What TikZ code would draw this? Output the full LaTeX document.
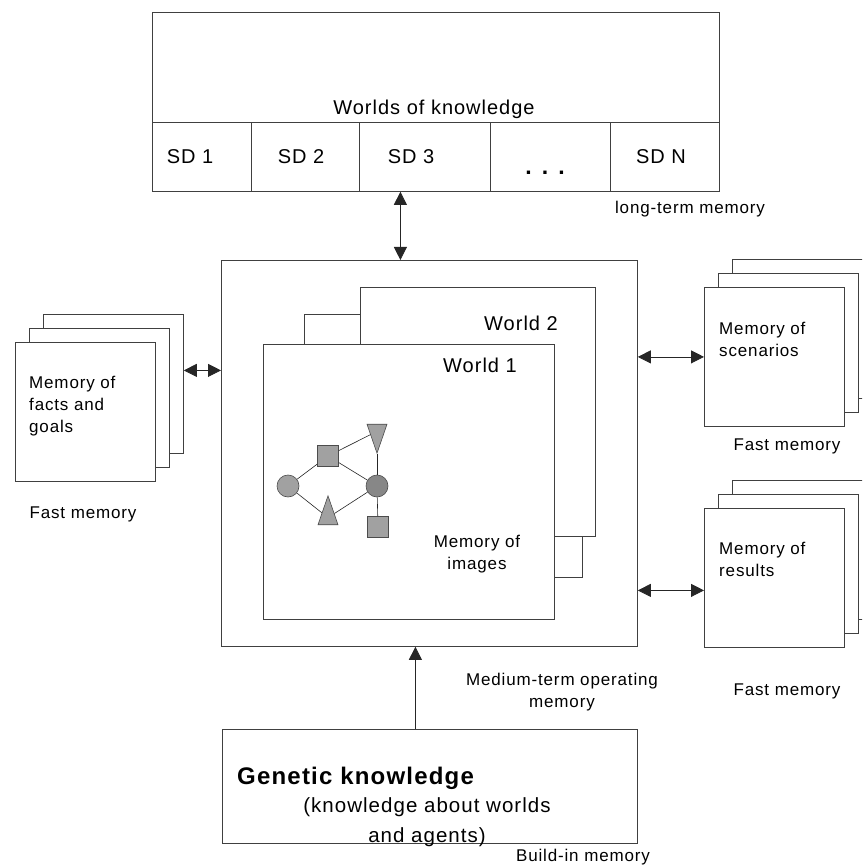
\documentclass[tikz,border=0pt]{standalone}
\usepackage{fontspec}
\setmainfont{Liberation Sans}[LetterSpace=5]
\usetikzlibrary{arrows.meta,calc,positioning,shapes.geometric}

\begin{document}
\begin{tikzpicture}[x=1pt,y=-1pt,>={Triangle[length=13pt,width=13pt]},
		box/.style={draw=black!75, line width=0.8pt, fill=white, inner sep=0pt, anchor=north west},
		memstack/.style={box, minimum width=140pt, minimum height=139pt},
		lab/.style={inner sep=0pt, font=\fontsize{17}{22}\selectfont},
		big/.style={inner sep=0pt, font=\fontsize{20}{24}\selectfont},
		item/.style={draw=black!70, fill=black!37, line width=0.6pt, inner sep=0pt},
		link/.style={black!85, line width=0.6pt},
		conn/.style={black!85, line width=0.8pt}]
	\useasboundingbox (0,0) rectangle (862,866);
	\clip (0,0) rectangle (862,866);

	% long-term memory
	\node[box, minimum width=567pt, minimum height=179pt] (worlds) at (152,12) {};
	\foreach \l/\r/\n in {152/251/1, 251/359/2, 359/490/3, 490/610/4, 610/719/5}
		\node[box, minimum width={(\r-\l)*1pt}, minimum height=69pt] (sd\n) at (\l,122) {};
	\node[big, anchor=base] (worldstxt) at (434,115) {Worlds of knowledge};
	\foreach \x/\t/\n in {190/SD 1/1, 301/SD 2/2, 411/SD 3/3, 661/SD N/5}
		\node[big, anchor=base] (sdtxt\n) at (\x,164) {\t};
	\node[anchor=base, inner sep=0pt, font=\fontsize{23}{24}\selectfont\bfseries] (dots) at (545,175) {. . .};
	\node[lab, anchor=base] (longtxt) at (690,214) {long-term memory};

	% medium-term memory with its worlds
	\node[box, minimum width=416pt, minimum height=386pt] (medium) at (221,260) {};
	\node[box, minimum width=278pt, minimum height=263pt] (world3) at (304,314) {};
	\node[box, minimum width=235pt, minimum height=249pt] (world2) at (360,287) {};
	\node[box, minimum width=291pt, minimum height=275pt] (world1) at (263,344) {};
	\node[big, anchor=base] (w2txt) at (521,330) {World 2};
	\node[big, anchor=base] (w1txt) at (480,372) {World 1};
	\node[lab, align=center, anchor=north] (imgtxt) at (477,535) {Memory of\\images};

	% image graph
	\node[item, circle, minimum size=22pt] (ca) at (288,486) {};
	\node[item, circle, minimum size=22pt, fill=black!47] (cb) at (377,486) {};
	\node[item, minimum size=21pt] (sqa) at (328,456) {};
	\node[item, minimum size=21pt] (sqb) at (378,527) {};
	\node[item, isosceles triangle, isosceles triangle stretches, minimum width=20pt, minimum height=29pt, rotate=-90, anchor=apex] (tra) at (377,454) {};
	\node[item, isosceles triangle, isosceles triangle stretches, minimum width=20pt, minimum height=29pt, rotate=90, anchor=apex] (trb) at (328,495) {};
	\draw[link] (ca) -- (sqa);
	\draw[link] (sqa) -- (tra);
	\draw[link] (sqa) -- (cb);
	\draw[link] (ca) -- (trb);
	\draw[link] (trb) -- (cb);
	\draw[link] (tra.apex) -- (cb);
	\draw[link] (cb) -- (sqb);

	% fast memories
	\node[memstack] (facts3) at (43,314) {};
	\node[memstack, below left=14pt and 14pt of facts3.north east] (facts2) {};
	\node[memstack, below left=14pt and 14pt of facts2.north east] (facts) {};
	\node[lab, align=left, anchor=north west] (factstxt) at ([xshift=14pt, yshift=-34pt]facts.north west) {Memory of\\facts and\\goals};
	\node[lab, anchor=base] (factsfast) at (83,518) {Fast memory};

	\node[memstack] (scen3) at (732,259) {};
	\node[memstack, below left=14pt and 14pt of scen3.north east] (scen2) {};
	\node[memstack, below left=14pt and 14pt of scen2.north east] (scen) {};
	\node[lab, align=left, anchor=north west] (scentxt) at ([xshift=15pt, yshift=-35pt]scen.north west) {Memory of\\scenarios};
	\node[lab, anchor=base] (scenfast) at (787,450) {Fast memory};

	\node[memstack] (res3) at (732,480) {};
	\node[memstack, below left=14pt and 14pt of res3.north east] (res2) {};
	\node[memstack, below left=14pt and 14pt of res2.north east] (res) {};
	\node[lab, align=left, anchor=north west] (restxt) at ([xshift=15pt, yshift=-34pt]res.north west) {Memory of\\results};
	\node[lab, anchor=base] (resfast) at (787,695) {Fast memory};

	\node[lab, align=center, anchor=north] (medtxt) at (562,673) {Medium-term operating\\memory};

	% genetic knowledge
	\node[box, minimum width=415pt, minimum height=114pt] (genetic) at (222,729) {};
	\node[anchor=base west, inner sep=0pt, font=\fontsize{24}{28}\selectfont\bfseries] (gentxt) at (237,784) {Genetic knowledge};
	\node[inner sep=0pt, align=center, anchor=north, font=\fontsize{20.5}{30}\selectfont] (gensub) at (427,797) {(knowledge about worlds\\and agents)};
	\node[lab, anchor=base] (buildtxt) at (583,861) {Build-in memory};

	% connections
	\draw[conn, <->] ($(medium.north)+(-29,0)$) -- ($(worlds.south)+(-35.5,0)$);
	\draw[conn, <->] ($(facts3.east)+(0,-13.5)$) -- ($(medium.west |- facts3.east)+(0,-13.5)$);
	\draw[conn, <->] (medium.east |- scen.west) -- (scen.west);
	\draw[conn, <->] ($(medium.east |- res.west)+(0,12.5)$) -- ($(res.west)+(0,12.5)$);
	\draw[conn, ->] ($(genetic.north)+(-14.5,0)$) -- ($(medium.south)+(-14,0)$);
\end{tikzpicture}
\end{document}
